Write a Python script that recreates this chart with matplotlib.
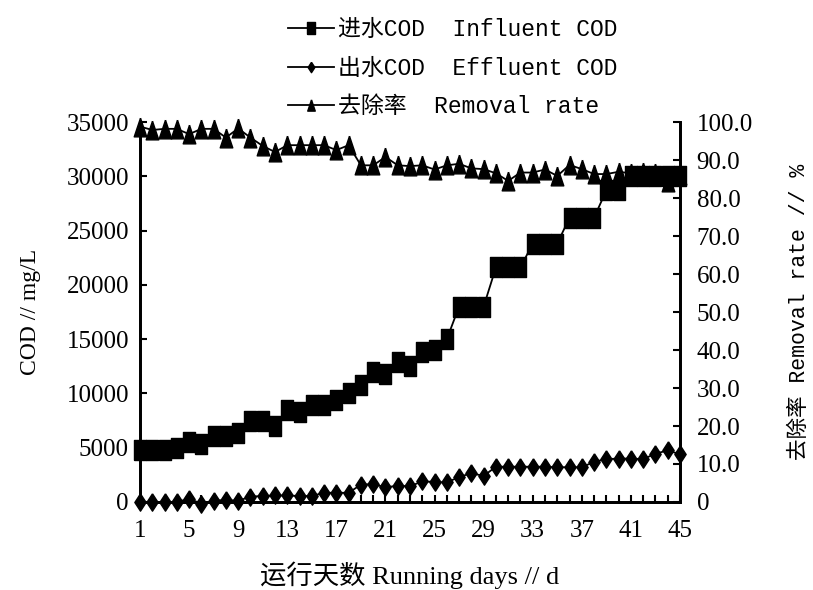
import numpy as np
import matplotlib.pyplot as plt
from matplotlib.ticker import MultipleLocator

plt.rcParams['font.family'] = ['Liberation Serif', 'Noto Sans CJK SC']
mono_cjk = ['Liberation Mono', 'Noto Sans CJK SC']

# running days
days = np.arange(1, 46)

# influent COD, mg/L
influent_cod = [4800, 4800, 4800, 5000, 5500, 5300, 6100, 6100, 6400, 7500,
                7500, 7000, 8500, 8300, 8900, 8900, 9400, 10000, 10800, 12000,
                11800, 12900, 12500, 13800, 14000, 15000, 18000, 18000, 18000, 21600,
                21600, 21600, 23800, 23800, 23800, 26200, 26200, 26200, 28700, 28700,
                30000, 30000, 30000, 30000, 30000]

# effluent COD, mg/L
effluent_cod = [0, 0, 0, 0, 300, -150, 100, 200, 100, 500,
                550, 600, 600, 550, 550, 850, 850, 850, 1600, 1650,
                1350, 1500, 1450, 1900, 1850, 1800, 2300, 2650, 2400, 3250,
                3250, 3250, 3250, 3250, 3200, 3200, 3200, 3700, 3950, 4000,
                4000, 3950, 4450, 4750, 4400]

# removal rate, %
removal_rate = [98.8, 97.9, 98.2, 98.2, 96.8, 98.2, 98.2, 95.9, 98.3, 95.9,
                93.7, 92.1, 93.9, 93.9, 93.9, 93.9, 92.6, 93.9, 88.6, 88.6,
                90.8, 88.6, 88.4, 88.6, 87.5, 88.6, 89.0, 87.8, 87.6, 86.5,
                84.5, 86.7, 86.7, 87.5, 85.8, 88.7, 87.6, 86.3, 86.3, 86.9,
                86.5, 86.8, 86.5, 84.3, 86.0]

day_ticks = list(range(1, 46, 4))
cod_ticks = list(range(0, 35001, 5000))
rate_ticks = list(range(0, 101, 10))
rate_labels = ['0'] + ['%.1f' % v for v in rate_ticks[1:]]

# the source figure is stretched vertically, so markers are tall
rect = [(-0.57, -1), (0.57, -1), (0.57, 1), (-0.57, 1), (-0.57, -1)]
diamond = [(0, 1), (0.65, 0), (0, -1), (-0.65, 0), (0, 1)]
tri = [(0, 1), (0.67, -1), (-0.67, -1), (0, 1)]

fig = plt.figure(figsize=(8.13, 5.90), dpi=100)
ax = fig.add_axes([140 / 813, 1 - 502 / 590, 540 / 813, 380 / 590])
ax2 = ax.twinx()
ax.set_zorder(ax2.get_zorder() + 1)
ax.patch.set_visible(False)

l1, = ax.plot(days, influent_cod, color='k', lw=1.3, marker=rect, ms=15,
              clip_on=False, label='进水COD  Influent COD')
l2, = ax.plot(days, effluent_cod, color='k', lw=1.3, marker=diamond, ms=12.5,
              clip_on=False, label='出水COD  Effluent COD')
l3, = ax2.plot(days, removal_rate, color='k', lw=1.3, marker=tri, ms=13.5,
               clip_on=False, label='去除率  Removal rate')

ax.set_xlim(1, 45)
ax.set_ylim(0, 35000)
ax2.set_ylim(0, 100)
ax.set_xticks(day_ticks)
ax.xaxis.set_minor_locator(MultipleLocator(1))
ax.set_yticks(cod_ticks)
ax2.set_yticks(rate_ticks)
ax2.set_yticklabels(rate_labels)

for a in (ax, ax2):
    a.spines['top'].set_visible(False)
    for s in ('left', 'right', 'bottom'):
        a.spines[s].set_linewidth(2)
ax.tick_params(axis='both', which='both', direction='in', length=5, width=1.5,
               labelsize=18)
ax.tick_params(axis='x', which='both', pad=13)
ax.tick_params(axis='y', pad=8)
ax2.tick_params(axis='y', direction='in', length=5, width=1.5, labelsize=18, pad=12)

ax.set_xlabel('运行天数 Running days // d', fontsize=19, labelpad=14)
ax.set_ylabel('COD // mg/L', fontsize=17, labelpad=18)
ax2.set_ylabel('去除率 Removal rate // %', fontsize=15.5, family=mono_cjk, labelpad=26)

fig.legend([l1, l2, l3], [l1.get_label(), l2.get_label(), l3.get_label()],
           loc='upper left', bbox_to_anchor=(288 / 813, 1 - 18 / 590),
           frameon=False, prop={'family': mono_cjk, 'size': 16.5},
           markerscale=0.6, handlelength=2.0, handletextpad=0.2,
           labelspacing=0.68, borderpad=0, borderaxespad=0)

fig.savefig('out.png', dpi=100)
